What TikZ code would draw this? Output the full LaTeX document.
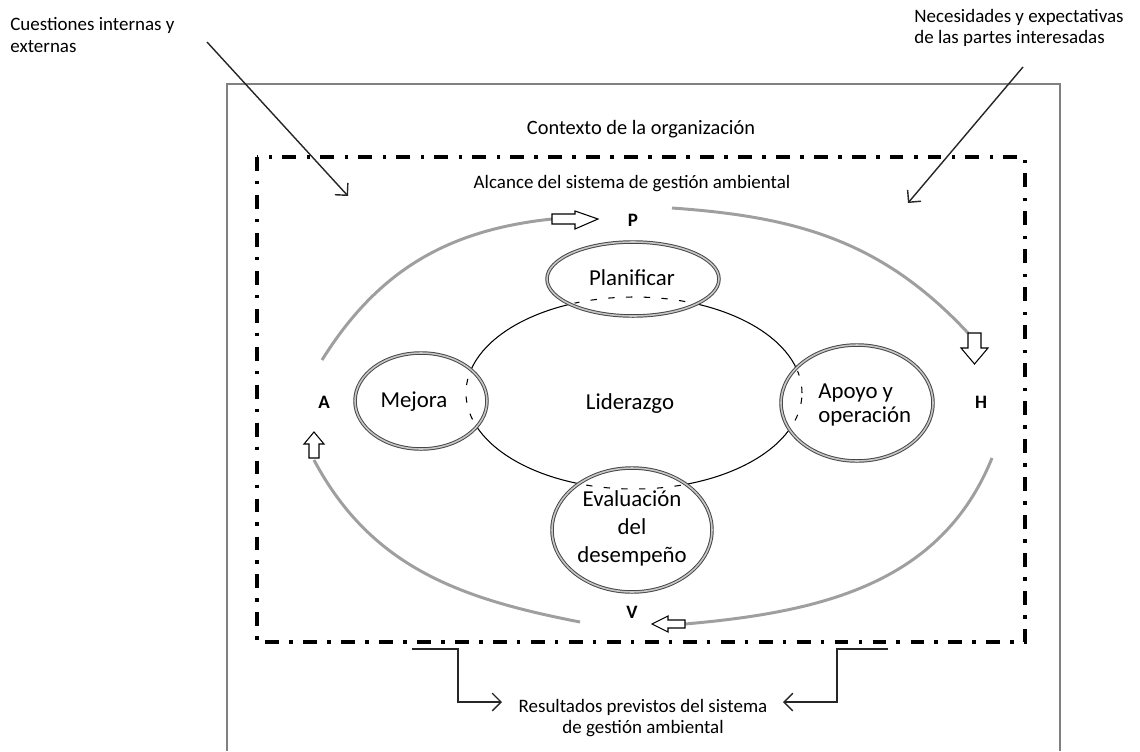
\documentclass[tikz,border=0pt]{standalone}
\usepackage{fontspec}
\setmainfont{Carlito}
\usetikzlibrary{shapes.geometric,arrows.meta}
\begin{document}
\begin{tikzpicture}[x=0.02cm,y=0.02cm,
  lbl/.style={inner sep=0pt, font=\fontsize{10.8}{12.4}\selectfont},
  ctx/.style={inner sep=0pt, font=\fontsize{11.6}{13}\selectfont},
  intext/.style={inner sep=0pt, font=\fontsize{13}{14.2}\selectfont},
  lett/.style={inner sep=0pt, font=\fontsize{10.8}{12}\selectfont\bfseries},
  ring/.style={ellipse, draw=gray!55!black, line width=0.55pt, double=gray!45, double distance=0.9pt, fill=white, inner sep=0pt},
  lead/.style={ellipse, draw=black, line width=0.6pt, inner sep=0pt},
  hid/.style={draw=black, line width=0.6pt, dash pattern=on 3.6pt off 6.5pt},
  cyc/.style={draw=gray!75, line width=1.7pt},
  hollow/.style={draw=black, line width=0.6pt, fill=white, line join=miter},
  feed/.style={draw=black!85, line width=0.8pt, -{Straight Barb[length=5pt,width=10pt]}},
  frame/.style={draw=black!50, line width=0.7pt},
  scope line/.style={draw=black, line width=2.2pt, dash pattern=on 7.9pt off 5.7pt on 2pt off 6pt}
]
\useasboundingbox (0,0) rectangle (1140,-751);
% frames
\draw[frame] (227,-751) -- (227,-84) -- (1060,-84) -- (1060,-751);
\draw[scope line] (257,-157) rectangle (1025,-642);

% labels
\node[lbl, anchor=west, align=left] (cue) at (10,-35) {Cuestiones internas y\\externas};
\node[lbl, anchor=west, align=left] (nec) at (914,-28) {Necesidades y expectativas\\de las partes interesadas};
\node[ctx] (ctxt) at (641,-129) {Contexto de la organización};
\node[lbl] (alc) at (632,-184) {Alcance del sistema de gestión ambiental};
\node[lbl, align=center] (res) at (643,-718) {Resultados previstos del sistema\\de gestión ambiental};

% input arrows
\coordinate (c1s) at (207,-42);
\coordinate (c1e) at (348,-196);
\coordinate (c2s) at (1023,-67);
\coordinate (c2e) at (908,-203);
\draw[feed] (c1s) -- (c1e);
\draw[feed] (c2s) -- (c2e);

% output arrows
\coordinate (o1s) at (412,-649);
\coordinate (o1e) at (502,-702);
\coordinate (o2s) at (888,-649);
\coordinate (o2e) at (783,-702);
\draw[feed] (o1s) -| (458,-702) -- (o1e);
\draw[feed] (o2s) -| (837,-702) -- (o2e);

% PHVA cycle arcs
\coordinate (lt1) at (322,-360); \coordinate (lt2) at (552,-219);
\coordinate (rt1) at (672,-208); \coordinate (rt2) at (968,-333);
\coordinate (rb1) at (992,-458); \coordinate (rb2) at (685,-624);
\coordinate (lb1) at (580,-622); \coordinate (lb2) at (314,-460);
\draw[cyc] (lt1) to[out=58, in=186] (lt2);
\draw[cyc] (rt1) to[out=-4, in=133] (rt2);
\draw[cyc] (rb1) to[out=-112, in=5] (rb2);
\draw[cyc] (lb1) to[out=169, in=-62] (lb2);

% hollow block arrows
\draw[hollow] (552,-214) -- (575,-214) -- (575,-211) -- (598,-219) -- (575,-229) -- (575,-224) -- (552,-224) -- cycle;
\draw[hollow] (968,-333) -- (981,-333) -- (981,-348) -- (988,-348) -- (974.5,-364) -- (961,-348) -- (968,-348) -- cycle;
\draw[hollow] (309,-458) -- (319,-458) -- (319,-444) -- (324,-444) -- (314,-432) -- (304,-444) -- (309,-444) -- cycle;
\draw[hollow] (685,-620) -- (668,-620) -- (668,-616) -- (652,-624) -- (668,-632) -- (668,-628) -- (685,-628) -- cycle;

% cycle letters
\node[lett] (P) at (633,-220) {P};
\node[lett] (H) at (981,-402) {H};
\node[lett] (A) at (324,-402) {A};
\node[lett] (V) at (632,-612) {V};

% leadership ellipse and process rings
\node[lead, minimum width=6.72cm, minimum height=3.84cm] (lid) at (634,-393) {};
\node[ring, minimum width=3.44cm, minimum height=1.48cm] (pl) at (633,-279) {};
\node[ring, minimum width=2.64cm, minimum height=1.92cm] (me) at (421,-401) {};
\node[ring, minimum width=3.04cm, minimum height=2.32cm] (ap) at (857,-403) {};
\node[ring, minimum width=3.20cm, minimum height=2.48cm] (ev) at (632,-530) {};

\foreach \n/\a/\b in {pl/83/34, me/63/45, ap/73/55, ev/77/59} {
  \begin{scope}
    \clip (\n.center) ellipse [x radius=\a, y radius=\b];
    \draw[hid] (lid.center) ellipse [x radius=168, y radius=96];
  \end{scope}
}

% texts
\node[intext] (tpl) at (632,-278) {Planificar};
\node[intext] (tlid) at (630,-404) {Liderazgo};
\node[intext] (tme) at (414,-402) {Mejora};
\node[intext, anchor=west, align=left] (tap) at (818,-405) {Apoyo y\\operación};
\node[intext, align=center, font=\fontsize{13}{15.9}\selectfont] (tev) at (632,-528) {Evaluación\\del\\desempeño};
\end{tikzpicture}
\end{document}
